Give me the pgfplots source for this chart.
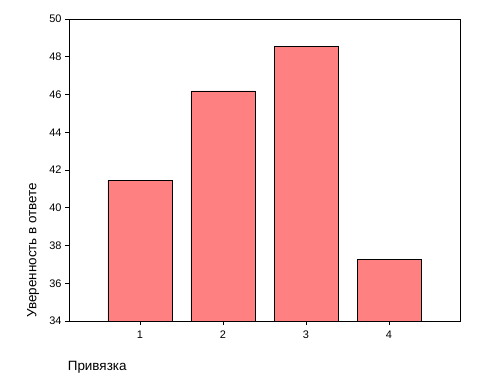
\documentclass[border=0pt]{standalone}
\usepackage{pgfplots}
\pgfplotsset{compat=1.18}
\usepackage{fontspec}
\setmainfont{Liberation Sans}
\definecolor{barred}{RGB}{255,128,128}
\begin{document}
\begin{tikzpicture}
\useasboundingbox (0,0) rectangle (480bp,384bp);
\begin{axis}[
  at={(69bp,63bp)}, anchor=south west,
  scale only axis, width=391bp, height=302bp,
  xmin=0.145, xmax=4.855, ymin=34, ymax=50,
  xtick={1,2,3,4}, ytick={34,36,...,50},
  xtick pos=left, ytick pos=left,
  tick align=outside, major tick length=4bp,
  axis line style={line width=0.9bp},
  every tick/.style={black, line width=0.8bp},
  tick label style={font=\fontsize{11}{13}\selectfont},
  x tick label style={yshift=-2bp},
  /pgf/number format/assume math mode=true,
  xlabel={Привязка}, ylabel={Уверенность в ответе},
  label style={font=\fontsize{13.5}{15}\selectfont},
  x label style={at={(axis description cs:-0.012,-0.152)}, anchor=west},
  y label style={at={(axis description cs:-0.092,0)}, anchor=west},
  ybar, bar width=64bp,
  axis on top,
]
\addplot[fill=barred, draw=black, line width=0.8bp] coordinates {(1,41.47) (2,46.19) (3,48.53) (4,37.28)};
\end{axis}
\end{tikzpicture}
\end{document}
